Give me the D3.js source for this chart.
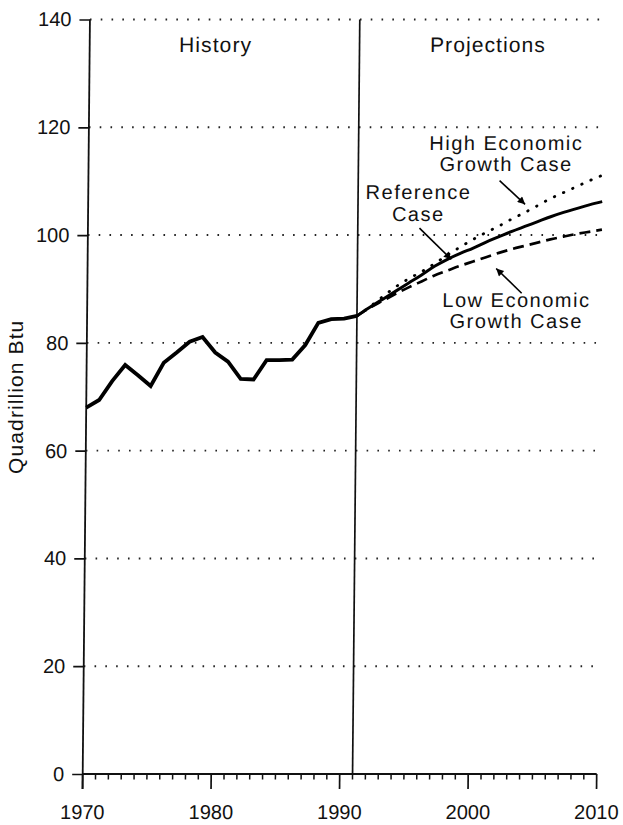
<!DOCTYPE html>
<html>
<head>
<meta charset="utf-8">
<script src="https://cdn.jsdelivr.net/npm/d3@7"></script>
<style>
  html, body { margin: 0; padding: 0; background: #fff; }
  svg { display: block; }
  text { font-family: "Liberation Sans", Arial, Helvetica, sans-serif; fill: #111; }
</style>
</head>
<body>
<svg id="chart" width="623" height="825"></svg>
<script>
// ---- data ----
const historyYears = [1970,1971,1972,1973,1974,1975,1976,1977,1978,1979,1980,1981,1982,1983,1984,1985,1986,1987,1988,1989,1990,1991];
const historyValues = [68.0,69.4,72.9,75.9,74.0,72.0,76.3,78.2,80.2,81.1,78.2,76.5,73.3,73.2,76.8,76.8,76.9,79.6,83.7,84.4,84.5,85.0];

const projYears = [1991,1992,1993,1994,1995,1996,1997,1998,1999,2000,2001,2002,2003,2004,2005,2006,2007,2008,2009,2010];
const referenceValues = [85.0,86.6,88.1,89.6,91.1,92.6,94.2,95.5,96.6,97.6,98.7,99.7,100.7,101.6,102.5,103.4,104.2,104.9,105.6,106.2];
const highValues      = [85.0,86.7,88.6,90.4,91.9,93.2,94.7,96.3,97.8,99.2,100.5,101.7,103.0,104.2,105.5,106.8,107.9,109.0,110.1,111.1];
const lowValues       = [85.0,86.5,87.8,89.1,90.3,91.4,92.5,93.4,94.3,95.1,95.9,96.7,97.4,98.0,98.6,99.2,99.7,100.2,100.6,101.0];

const yTicks = [0,20,40,60,80,100,120,140];
const xTicks = [1970,1980,1990,2000,2010];
const dividerYear = 1991;

const sectionLabels = [
  {text: "History", year: 1979.8, value: 133.9},
  {text: "Projections", year: 2001.0, value: 133.9}
];
const caseLabels = [
  {text: "High Economic", year: 2002.5, value: 115.8},
  {text: "Growth Case", year: 2002.5, value: 111.9},
  {text: "Reference", year: 1995.7, value: 106.6},
  {text: "Case", year: 1995.7, value: 102.7},
  {text: "Low Economic", year: 2003.4, value: 86.7},
  {text: "Growth Case", year: 2003.4, value: 82.8}
];
const arrows = [
  {from: [2002.0, 110.1], to: [2004.0, 105.7]},
  {from: [1995.8, 101.3], to: [1998.3, 95.5]},
  {from: [2003.8, 89.2], to: [2001.8, 93.8]}
];

// ---- scales ----
const svg = d3.select("#chart");
const x = d3.scaleLinear().domain([1970, 2010]).range([82.7, 596.7]);
const y = d3.scaleLinear().domain([0, 140]).range([774, 19.5]);
const base = y(0);

// scanned page is slightly slanted: skew the plot about the baseline
const g = svg.append("g")
  .attr("transform", `translate(0,${base}) skewX(-0.55) translate(0,${-base})`);

// gridlines (dotted)
g.append("g").selectAll("line").data(yTicks.filter(d => d > 0)).join("line")
  .attr("x1", x(1970)).attr("x2", x(2010))
  .attr("y1", d => y(d)).attr("y2", d => y(d))
  .attr("stroke", "#222").attr("stroke-width", 1.9)
  .attr("stroke-dasharray", "1.6 9.2");

// y axis
const yAxis = d3.axisLeft(y).tickValues(yTicks).tickSize(10.5).tickPadding(8).tickFormat(d3.format("d"));
const ya = g.append("g").attr("transform", `translate(${x(1970)},0)`).call(yAxis);
ya.select(".domain").remove();
ya.selectAll(".tick line").attr("stroke", "#111").attr("stroke-width", 1.7);
ya.selectAll(".tick text").attr("font-size", 20).attr("fill", "#111")
  .style("font-family", '"Liberation Sans", Arial, sans-serif');
g.append("line").attr("x1", x(1970)).attr("x2", x(1970))
  .attr("y1", y(0) + 15).attr("y2", y(140))
  .attr("stroke", "#111").attr("stroke-width", 1.8);

// x axis line
g.append("line").attr("x1", x(1970)).attr("x2", x(2010))
  .attr("y1", base).attr("y2", base)
  .attr("stroke", "#111").attr("stroke-width", 1.8);
// minor ticks every year
const minorYears = d3.range(1970, 2011).filter(d => d % 10 !== 0);
g.append("g").selectAll("line").data(minorYears).join("line")
  .attr("x1", d => x(d)).attr("x2", d => x(d))
  .attr("y1", base).attr("y2", base + 5.5)
  .attr("stroke", "#111").attr("stroke-width", 1.5);
// major ticks
g.append("g").selectAll("line").data(xTicks).join("line")
  .attr("x1", d => x(d)).attr("x2", d => x(d))
  .attr("y1", base).attr("y2", base + 15)
  .attr("stroke", "#111").attr("stroke-width", 1.7);
// x labels
g.append("g").selectAll("text").data(xTicks).join("text")
  .attr("x", d => x(d)).attr("y", base + 45)
  .attr("text-anchor", "middle").attr("font-size", 20)
  .text(d => d);

// divider
g.append("line").attr("x1", x(dividerYear)).attr("x2", x(dividerYear))
  .attr("y1", base).attr("y2", y(140))
  .attr("stroke", "#111").attr("stroke-width", 1.7);

// section labels
g.append("g").selectAll("text").data(sectionLabels).join("text")
  .attr("x", d => x(d.year)).attr("y", d => y(d.value))
  .attr("text-anchor", "middle").attr("font-size", 21)
  .attr("letter-spacing", 1.1)
  .text(d => d.text);

// history line
const lineGen = d3.line().x(d => x(d[0])).y(d => y(d[1]));
g.append("path")
  .datum(historyYears.map((yr, i) => [yr, historyValues[i]]))
  .attr("d", lineGen)
  .attr("fill", "none").attr("stroke", "#000").attr("stroke-width", 3.8)
  .attr("stroke-linejoin", "miter");

// projections
const smooth = d3.line().x(d => x(d[0])).y(d => y(d[1])).curve(d3.curveMonotoneX);
g.append("path")
  .datum(projYears.map((yr, i) => [yr, highValues[i]]))
  .attr("d", smooth).attr("fill", "none").attr("stroke", "#000")
  .attr("stroke-width", 2.8).attr("stroke-linecap", "round")
  .attr("stroke-dasharray", "0.5 9.5");
g.append("path")
  .datum(projYears.map((yr, i) => [yr, lowValues[i]]))
  .attr("d", smooth).attr("fill", "none").attr("stroke", "#000")
  .attr("stroke-width", 2.7).attr("stroke-dasharray", "11 6");
g.append("path")
  .datum(projYears.map((yr, i) => [yr, referenceValues[i]]))
  .attr("d", smooth).attr("fill", "none").attr("stroke", "#000")
  .attr("stroke-width", 3);

// case labels
g.append("g").selectAll("text").data(caseLabels).join("text")
  .attr("x", d => x(d.year)).attr("y", d => y(d.value))
  .attr("text-anchor", "middle").attr("font-size", 20)
  .attr("letter-spacing", 1.5)
  .text(d => d.text);

// arrows
svg.append("defs").append("marker")
  .attr("id", "arrow").attr("viewBox", "0 0 10 10")
  .attr("refX", 10).attr("refY", 5)
  .attr("markerWidth", 9).attr("markerHeight", 7.5)
  .attr("markerUnits", "userSpaceOnUse")
  .attr("orient", "auto")
  .append("path").attr("d", "M0,0 L10,5 L0,10 z").attr("fill", "#000");
g.append("g").selectAll("line").data(arrows).join("line")
  .attr("x1", d => x(d.from[0])).attr("y1", d => y(d.from[1]))
  .attr("x2", d => x(d.to[0])).attr("y2", d => y(d.to[1]))
  .attr("stroke", "#000").attr("stroke-width", 1.6)
  .attr("marker-end", "url(#arrow)");

// y axis title
svg.append("text")
  .attr("transform", `translate(23,${(y(0) + y(140)) / 2}) rotate(-90)`)
  .attr("text-anchor", "middle").attr("font-size", 21)
  .attr("letter-spacing", 1.1)
  .text("Quadrillion Btu");
</script>
</body>
</html>
